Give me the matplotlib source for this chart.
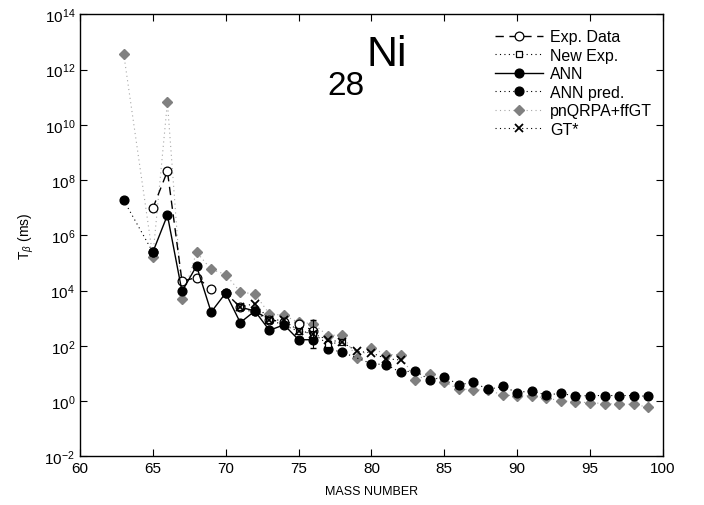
import numpy as np
import matplotlib
matplotlib.use("Agg")
import matplotlib.pyplot as plt
from matplotlib.ticker import NullLocator, FixedLocator

plt.rcParams['font.family'] = ['Liberation Sans', 'DejaVu Sans']
plt.rcParams['mathtext.fontset'] = 'custom'
plt.rcParams['mathtext.rm'] = 'Liberation Sans'
plt.rcParams['mathtext.it'] = 'Liberation Sans:italic'
plt.rcParams['mathtext.bf'] = 'Liberation Sans:bold'

# ---- data (log10 of half-life in ms) ----
exp_A = [65, 66, 67, 68, 69, 70, 71, 72, 73, 74, 75, 76]
exp_log = [6.98, 8.32, 4.34, 4.47, 4.07, 3.91, 3.40, 3.26, 2.95, 2.85, 2.80, 2.55]

new_A = [71, 73, 75, 76, 77, 78]
new_log = [3.40, 2.95, 2.53, 2.44, 2.07, 2.13]
new_err_A = [76]
new_err_log = [2.44]
new_err_dec = [0.51]

ann_A = [65, 66, 67, 68, 69, 70, 71, 72, 73, 74, 75, 76]
ann_log = [5.39, 6.73, 3.97, 4.89, 3.22, 3.91, 2.84, 3.26, 2.56, 2.76, 2.22, 2.22]

pred_A = [63, 65, np.nan, 77, 78, 80, 81, 82, 83, 84, 85, 86, 87, 88, 89, 90,
          91, 92, 93, 94, 95, 96, 97, 98, 99]
pred_log = [7.27, 5.39, np.nan, 1.89, 1.77, 1.35, 1.32, 1.04, 1.10, 0.76, 0.88,
            0.59, 0.68, 0.42, 0.53, 0.31, 0.37, 0.22, 0.28, 0.18, 0.20, 0.20,
            0.20, 0.20, 0.17]

qrpa_A = [63, 65, 66, 67, 68, 69, 70, 71, 72, 73, 74, 75, 76, 77, 78, 79, 80,
          81, 82, 83, 84, 85, 86, 87, 88, 89, 90, 91, 92, 93, 94, 95, 96, 97,
          98, 99]
qrpa_log = [12.57, 5.22, 10.82, 3.68, 5.39, 4.77, 4.58, 3.95, 3.87, 3.16, 3.10,
            2.85, 2.80, 2.37, 2.40, 1.56, 1.93, 1.68, 1.68, 0.76, 0.98, 0.68,
            0.44, 0.41, 0.40, 0.22, 0.19, 0.19, 0.11, 0.01, -0.03, -0.06,
            -0.09, -0.11, -0.12, -0.22]

gt_A = [71, 72, 73, 74, 75, 76, 77, 78, 79, 80, 81, 82]
gt_log = [3.40, 3.53, 2.95, 2.92, 2.55, 2.44, 2.22, 2.13, 1.80, 1.75, 1.53, 1.49]

x_ticks = [60, 65, 70, 75, 80, 85, 90, 95, 100]
y_tick_exps = list(range(-2, 15, 2))


def tv(a):
    return np.power(10.0, np.asarray(a, dtype=float))


fig = plt.figure(figsize=(7.04, 5.06), dpi=100)
ax = fig.add_axes([0.1136, 0.0962, 0.828, 0.8736])

grey = (0.5, 0.5, 0.5)
ms = 6.3

ax.plot(exp_A, tv(exp_log), color='k', ls=(0, (6, 4)), lw=1.0, marker='o',
        mfc='white', mec='k', ms=ms, mew=0.9, label='Exp. Data', zorder=4)
ax.plot(new_A, tv(new_log), color='k', ls=(0, (1, 3)), lw=0.8, marker='s',
        mfc='white', mec='k', ms=5, mew=0.9, label='New Exp.', zorder=5)
ax.plot(ann_A, tv(ann_log), color='k', ls='-', lw=1.0, marker='o',
        mfc='k', mec='k', ms=ms, label='ANN', zorder=4)
ax.plot(pred_A, tv(pred_log), color='k', ls=(0, (1, 3)), lw=0.8, marker='o',
        mfc='k', mec='k', ms=ms, label='ANN pred.', zorder=4)
ax.plot(qrpa_A, tv(qrpa_log), color=(0.65, 0.65, 0.65), ls=(0, (1, 3)), lw=0.8,
        marker='D', mfc=grey, mec=grey, ms=5.5, label='pnQRPA+ffGT', zorder=3)
ax.plot(gt_A, tv(gt_log), color='k', ls=(0, (1, 3)), lw=0.8, marker='x',
        mfc='k', mec='k', ms=6, mew=1.3, label='GT*', zorder=6)

for a, v, d in zip(new_err_A, new_err_log, new_err_dec):
    ax.errorbar([a], [10 ** v],
                yerr=[[10 ** v - 10 ** (v - d)], [10 ** (v + d) - 10 ** v]],
                fmt='none', ecolor='k', elinewidth=0.8, capsize=2, zorder=5)

ax.set_yscale('log')
ax.set_xlim(60, 100)
ax.set_ylim(1e-2, 1e14)
ax.xaxis.set_major_locator(FixedLocator(x_ticks))
ax.yaxis.set_major_locator(FixedLocator([10.0 ** k for k in y_tick_exps]))
ax.yaxis.set_minor_locator(NullLocator())
ax.tick_params(direction='in', top=True, right=True, labelsize=11, length=5,
               width=0.8)
for s in ax.spines.values():
    s.set_linewidth(1.0)

ax.set_xlabel('MASS NUMBER', fontsize=9, labelpad=7)
ax.set_ylabel(r'T$_\beta$ (ms)', fontsize=10, labelpad=6)

ax.text(0.425, 0.82, '28', transform=ax.transAxes, fontsize=24,
        ha='left', va='baseline')
ax.text(0.491, 0.885, 'Ni', transform=ax.transAxes, fontsize=31,
        ha='left', va='baseline')

leg = ax.legend(loc='upper right', frameon=False, fontsize=11.5,
                handlelength=3.0, handletextpad=0.46, labelspacing=0.22,
                borderaxespad=0.0, borderpad=0.0,
                bbox_to_anchor=(0.982, 0.966))

fig.savefig('out.png', dpi=100)
